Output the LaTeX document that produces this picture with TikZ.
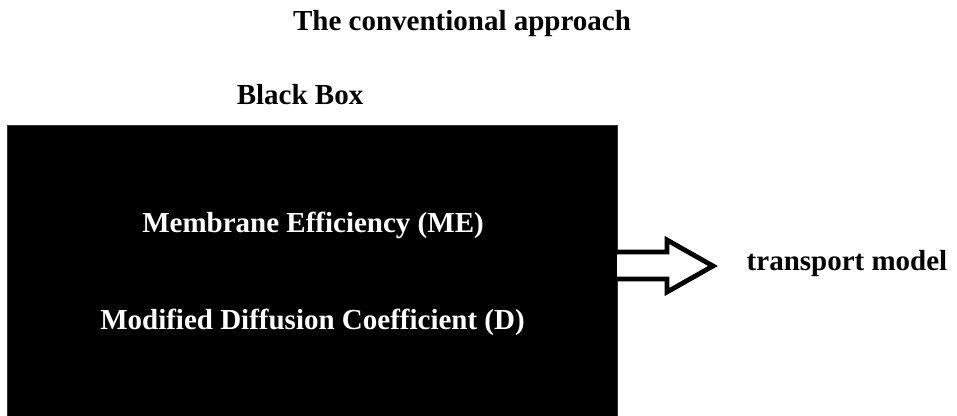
\documentclass[tikz,border=0pt]{standalone}
\usepackage{fontspec}
\setmainfont{Liberation Serif}
\tikzset{
  lbl/.style={font=\bfseries\fontsize{21.75}{26}\selectfont, inner sep=0pt, anchor=base},
}
\begin{document}
\begin{tikzpicture}[x=0.75pt,y=0.75pt,yscale=-1,xscale=1]
\useasboundingbox (0,0) rectangle (957,416);

%Shape: Rectangle [black box]
\node (blackbox) [fill=black, draw=black!80, line width=0.6pt, anchor=north west, inner sep=0pt, outer sep=0pt, minimum width=457.5pt, minimum height=218.25pt] at (7,125) {};

%Shape: Right Arrow
\draw [line width=3.6pt, fill=white, line join=miter] (617,252) -- (667,252) -- (667,240) -- (713,266) -- (667,292) -- (667,279) -- (617,279) ;

% Text Node
\node (title) [lbl] at (462,30.5) {The conventional approach};
% Text Node
\node (boxname) [lbl] at (300,105) {Black Box};
% Text Node
\node (me) [lbl, text=white] at (313,233) {Membrane Efficiency (ME)};
% Text Node
\node (dcoef) [lbl, text=white] at (312.5,330) {Modified Diffusion Coefficient (D)};
% Text Node
\node (model) [lbl] at (847,271) {transport model};

\end{tikzpicture}
\end{document}
